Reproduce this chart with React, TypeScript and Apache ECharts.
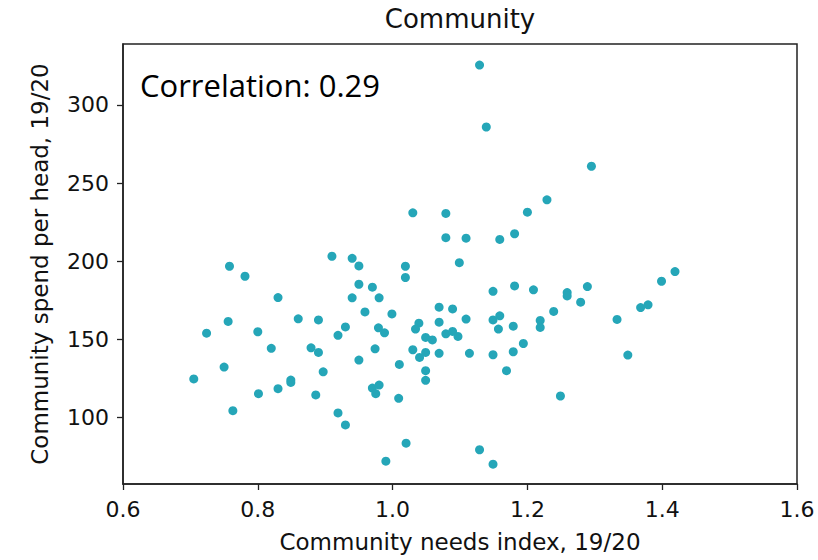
import React, { useEffect, useRef } from "react";
import * as echarts from "echarts";

// Community needs index (x) against community spend per head (y), 2019/20
const needsIndex: number[] = [
  0.910, 0.940, 0.950, 1.019, 1.019, 1.099, 0.758, 0.781, 0.830, 0.950,
  0.970, 0.940, 0.980, 0.959, 0.999, 1.069, 1.089, 0.860, 0.890, 0.756,
  0.724, 0.800, 0.930, 0.919, 0.979, 0.988, 1.039, 1.034, 1.069, 1.049,
  1.059, 1.079, 1.089, 1.097, 0.820, 0.879, 0.890, 0.974, 0.950, 1.030,
  1.040, 1.049, 1.069, 0.750, 0.705, 0.897, 1.010, 1.049, 1.049, 0.801,
  0.830, 0.849, 0.849, 0.886, 0.970, 0.980, 0.975, 1.009, 0.763, 0.919,
  0.930, 1.020, 0.990, 1.030, 1.079, 1.079, 1.129, 1.139, 1.295, 1.229,
  1.200, 1.181, 1.159, 1.109, 1.419, 1.399, 1.149, 1.181, 1.209, 1.259,
  1.259, 1.289, 1.279, 1.239, 1.368, 1.379, 1.109, 1.149, 1.159, 1.157,
  1.179, 1.219, 1.219, 1.333, 1.114, 1.149, 1.179, 1.194, 1.169, 1.349,
  1.249, 1.129, 1.149,
];

const spendPerHead: number[] = [
  203.2, 201.9, 197.0, 196.8, 189.6, 199.1, 196.8, 190.4, 176.8, 185.3,
  183.4, 176.6, 176.6, 167.6, 166.3, 170.6, 169.5, 163.2, 162.5, 161.5,
  154.0, 154.9, 158.0, 152.6, 157.4, 154.2, 160.4, 156.6, 161.0, 151.3,
  149.7, 153.6, 155.1, 151.9, 144.3, 144.6, 141.7, 144.0, 136.8, 143.4,
  138.5, 141.7, 141.1, 132.3, 124.7, 129.3, 134.0, 130.0, 123.8, 115.3,
  118.5, 124.0, 122.5, 114.5, 118.9, 120.8, 115.3, 112.3, 104.4, 103.0,
  95.3, 83.6, 72.1, 231.0, 230.6, 215.1, 325.5, 285.9, 260.8, 239.3,
  231.4, 217.6, 214.0, 214.8, 193.4, 187.2, 180.8, 184.2, 181.7, 180.0,
  177.8, 183.8, 173.8, 167.9, 170.4, 172.1, 163.0, 162.5, 165.1, 156.6,
  158.5, 162.1, 157.7, 162.8, 141.1, 140.2, 142.1, 147.4, 130.0, 140.0,
  113.8, 79.4, 70.2,
];

const xTicks: number[] = [0.6, 0.8, 1.0, 1.2, 1.4, 1.6];
const yTicks: number[] = [100, 150, 200, 250, 300];

const chartTitle = "Community";
const correlationText = "Correlation: 0.29";
const xName = "Community needs index, 19/20";
const yName = "Community spend per head, 19/20";

const AXIS_FONT = "'DejaVu Sans', sans-serif";

export default function App() {
  const ref = useRef<HTMLDivElement>(null);

  useEffect(() => {
    if (!ref.current) return;
    const chart = echarts.init(ref.current, null, { renderer: "svg" });

    const points = needsIndex.map((x, i) => [x, spendPerHead[i]]);

    chart.setOption({
      animation: false,
      backgroundColor: "#ffffff",
      grid: {
        left: 123,
        right: 21,
        top: 44,
        bottom: 76,
        containLabel: false,
        outerBoundsMode: "none",
        show: true,
        borderColor: "#222222",
        borderWidth: 1.5,
        backgroundColor: "transparent",
      },
      graphic: [
        {
          type: "text",
          x: 460,
          y: 6,
          style: {
            text: chartTitle,
            fontFamily: AXIS_FONT,
            fontSize: 26,
            fill: "#111111",
            textAlign: "center",
          },
        },
        {
          type: "text",
          x: 140,
          y: 69,
          style: {
            text: correlationText,
            fontFamily: "'Open Sans', sans-serif",
            fontSize: 31,
            fill: "#000000",
          },
        },
      ],
      xAxis: {
        type: "value",
        min: 0.6,
        max: 1.6,
        name: xName,
        nameLocation: "middle",
        nameGap: 46,
        nameTextStyle: { fontFamily: AXIS_FONT, fontSize: 23, color: "#111111" },
        axisLine: { show: true, lineStyle: { color: "#222222", width: 1.5 } },
        axisTick: {
          show: true,
          length: 6,
          inside: false,
          customValues: xTicks,
          lineStyle: { color: "#222222", width: 1.3 },
        },
        axisLabel: {
          customValues: xTicks,
          margin: 14,
          fontFamily: AXIS_FONT,
          fontSize: 22,
          color: "#111111",
          formatter: (v: number) => v.toFixed(1),
        },
        splitLine: { show: false },
      },
      yAxis: {
        type: "value",
        min: 57.5,
        max: 339,
        name: yName,
        nameLocation: "middle",
        nameGap: 72,
        nameRotate: 90,
        nameTextStyle: { fontFamily: AXIS_FONT, fontSize: 23, color: "#111111" },
        axisLine: { show: true, lineStyle: { color: "#222222", width: 1.5 } },
        axisTick: {
          show: true,
          length: 6,
          inside: false,
          customValues: yTicks,
          lineStyle: { color: "#222222", width: 1.3 },
        },
        axisLabel: {
          customValues: yTicks,
          margin: 14,
          fontFamily: AXIS_FONT,
          fontSize: 22,
          color: "#111111",
        },
        splitLine: { show: false },
      },
      series: [
        {
          type: "scatter",
          data: points,
          symbol: "circle",
          symbolSize: 9,
          itemStyle: { color: "#25a6b8", opacity: 1 },
        },
      ],
    });

    return () => {
      chart.dispose();
    };
  }, []);

  return (
    <div
      ref={ref}
      style={{ width: 818, height: 560, position: "absolute", left: 0, top: 0 }}
    />
  );
}
